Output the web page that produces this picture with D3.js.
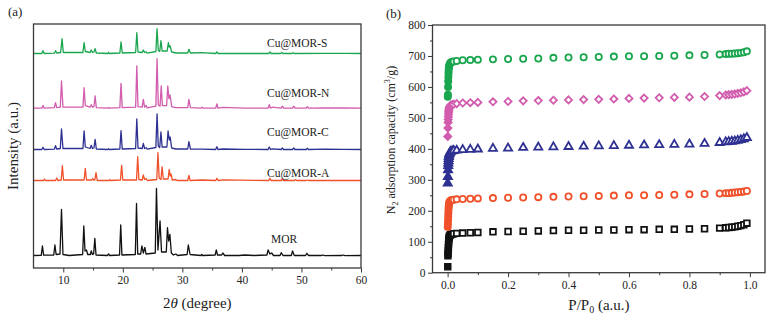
<!DOCTYPE html>
<html>
<head>
<meta charset="utf-8">
<script src="https://cdn.jsdelivr.net/npm/d3@7"></script>
<style>
  body { margin: 0; background: #fff; }
  svg text { font-family: "Liberation Serif", "Times New Roman", serif; fill: #222; }
</style>
</head>
<body>
<svg id="chart" width="773" height="324"></svg>
<script>
// ===============================
// Dades (a): XRD, punts [2θ, intensitat a.u.]
// ===============================
const xrdMOR = [[5,0.5],[6.3,0.6],[6.5,10],[6.7,0.8],[8.4,1],[8.6,11],[8.8,1.5],[9.45,2],[9.7,46.7],[9.95,1.5],[11,0.5],[13.25,1.5],[13.45,30],[13.65,5],[13.9,6],[14.1,1.5],[14.55,1.5],[14.7,5],[14.9,1.5],[15.1,2],[15.3,17.7],[15.5,1],[17.4,0.5],[17.6,2],[17.8,0.5],[19.45,1],[19.65,31],[19.85,1],[22.1,1.5],[22.3,52.7],[22.5,2],[23.0,2],[23.2,10],[23.45,3],[23.7,8.7],[23.9,2],[25.45,3],[25.65,67.7],[25.9,6],[26.25,35],[26.5,4],[27.3,4],[27.5,28.3],[27.7,15],[27.9,21.7],[28.15,3],[28.5,1],[28.9,2],[29.2,0.5],[30.8,1.5],[31.0,11],[31.3,1.5],[33.1,0.5],[33.25,1.5],[33.4,0.5],[35.5,1],[35.7,6],[35.9,1],[36.6,1],[36.8,3],[37.1,0.5],[39.5,0.5],[40.5,1],[42,0.5],[44.2,1],[44.4,6],[44.7,2],[45,3],[45.3,0.5],[46.4,0.5],[46.6,3.3],[46.9,0.5],[48.3,0.5],[48.5,5],[48.8,0.5],[50.7,0.5],[50.9,2.7],[51.2,0.5],[53.4,0.5],[53.6,1],[53.9,0.3],[56.8,0.5],[57,1],[57.3,0.3],[60,0.5]];

const xrdA = [[5,0.5],[6.7,0.5],[6.85,2],[7.0,0.5],[8.7,0.5],[8.9,3],[9.1,0.5],[9.65,1],[9.85,15.3],[10.05,1],[13.5,1],[13.7,12.7],[13.9,1],[14.8,1],[14.95,2.5],[15.1,1],[15.3,1],[15.5,8.3],[15.7,0.5],[17.7,0.5],[17.8,1.5],[17.9,0.5],[19.6,1],[19.8,15.7],[20,1],[22.3,1],[22.5,24.3],[22.7,1.5],[23.25,1],[23.45,6],[23.65,1.5],[23.9,2.5],[24.1,0.5],[25.7,1.5],[25.9,28.3],[26.1,3],[26.4,1.5],[26.6,14.3],[26.8,2],[27.6,2],[27.8,11.7],[27.95,5],[28.1,7],[28.3,1],[28.9,1.5],[29.1,0.5],[30.9,0.5],[31.1,5.7],[31.3,0.5],[33.3,1],[35.6,0.5],[35.8,2.7],[36,0.5],[36.8,1.2],[44.5,0.5],[44.7,2.7],[44.9,0.5],[46.6,0.5],[46.8,2],[47,0.5],[48.8,0.5],[49,1.3],[49.2,0.5],[50.8,0.5],[51,1],[51.2,0.5],[60,0.5]];

const xrdC = [[5,0.5],[6.4,0.5],[6.6,2.7],[6.8,0.5],[8.5,0.8],[8.7,4.3],[8.9,1],[9.5,1.5],[9.7,21],[9.95,1.5],[13.3,1.5],[13.5,19],[13.7,3],[14.5,1.5],[14.7,4.7],[14.9,1.5],[15.15,2],[15.35,10.7],[15.55,1],[17.45,0.5],[17.6,1.3],[17.75,0.5],[19.5,1],[19.7,19.3],[19.9,1],[22.15,1.5],[22.35,31],[22.55,2],[23.25,1.5],[23.45,6.7],[23.65,1.5],[23.9,2.3],[24.1,0.8],[25.55,2.5],[25.75,36],[25.95,4],[26.2,2.5],[26.4,18],[26.6,3],[27.4,3],[27.6,19],[27.8,10],[27.95,13],[28.2,2],[28.9,1],[30.9,1],[31.1,8.3],[31.35,1],[33.3,0.8],[35.6,0.5],[35.8,3.3],[36,0.5],[36.8,1],[40.5,0.6],[44.4,0.5],[44.6,3],[44.8,0.5],[45.1,1.2],[46.6,0.5],[46.8,2],[47,0.5],[48.5,0.5],[48.7,2],[48.9,0.5],[50.8,0.5],[51,1.7],[51.2,0.5],[54,0.8],[57,0.7],[60,0.5]];

const xrdN = [[5,0.5],[6.4,0.5],[6.6,3.3],[6.8,0.5],[8.5,1],[8.7,6],[8.9,1],[9.5,1.5],[9.7,27.7],[9.95,1.5],[13.3,1.5],[13.5,21],[13.7,3],[14.5,1.5],[14.7,4],[14.9,1.5],[15.15,2],[15.35,12.7],[15.55,1],[17.45,0.5],[17.6,1.3],[17.75,0.5],[19.5,1],[19.7,25.3],[19.9,1],[22.15,1.5],[22.35,42.7],[22.55,2],[23.25,1.5],[23.45,9.3],[23.65,1.5],[23.9,3.3],[24.1,0.8],[25.55,2.5],[25.75,50],[25.95,4],[26.25,2.5],[26.45,22.7],[26.65,3],[27.35,3],[27.55,22.7],[27.75,10],[27.95,13.7],[28.2,2],[28.9,1],[30.9,1],[31.1,9.3],[31.35,1],[33.1,0.5],[33.3,1.5],[33.5,0.5],[35.6,0.5],[35.8,4.7],[36,0.5],[36.8,1.3],[40.5,0.6],[44.4,0.5],[44.6,4],[44.8,0.5],[45.1,1.5],[46.6,0.5],[46.8,2.5],[47,0.5],[48.5,0.5],[48.7,2.5],[48.9,0.5],[50.8,0.5],[51,2],[51.2,0.5],[54,0.8],[57,0.7],[60,0.5]];

const xrdS = [[5,0.5],[6.4,0.5],[6.6,3.3],[6.8,0.5],[8.5,0.8],[8.7,3.3],[8.9,1],[9.55,1.5],[9.8,15.3],[10.0,1.5],[13.3,1.5],[13.5,11.3],[13.7,2.5],[14.5,1.5],[14.7,4],[14.9,1.5],[15.15,2],[15.35,5.3],[15.55,1],[17.45,0.5],[17.6,1.7],[17.75,0.5],[19.5,1],[19.7,12],[19.9,1],[22.15,1.5],[22.35,21.3],[22.55,2],[23.25,1.5],[23.45,4],[23.65,1.5],[23.9,2.3],[24.1,0.8],[25.55,2.5],[25.75,25.3],[25.95,4],[26.2,2.5],[26.4,13.3],[26.6,3],[27.45,3],[27.65,11.3],[27.8,7],[27.95,8],[28.2,2],[28.9,1],[30.9,1],[31.1,4.7],[31.35,1],[33.3,1.3],[35.6,0.5],[35.8,2],[36,0.5],[44.5,0.5],[44.7,2],[44.9,0.5],[46.5,0.5],[46.7,1.5],[46.9,0.5],[48.4,0.5],[48.6,1.3],[48.8,0.5],[54,0.6],[57.5,0.7],[60,0.5]];

const sampleNames = ["MOR", "Cu@MOR-A", "Cu@MOR-C", "Cu@MOR-N", "Cu@MOR-S"];
const xrdOffsets = [12, 87, 118, 159.3, 214];
const xTicksA = [10, 20, 30, 40, 50, 60];

// ===============================
// Dades (b): isotermes N2
// ===============================
const pressure = [0.0005,0.001,0.0015,0.002,0.0025,0.003,0.0035,0.004,0.005,0.006,0.008,0.01,
  0.015,0.02,0.03,0.05,0.075,0.1,
  0.15,0.2,0.25,0.3,0.35,0.4,0.45,0.5,0.55,0.6,0.65,0.7,0.75,0.8,0.85,0.9,
  0.92,0.93,0.94,0.95,0.96,0.97,0.98,0.99];

const adsMOR = [19,55,62,70,80,90,100,108,114,118,121,123, 125,126,127,128,129,130,
  132,133,134,135,136,137,137,138,138,139,139,140,140,141,142,144, 145,146,147,148,150,152,155,160];
const adsA = [148,158,170,182,193,203,211,218,224,228,231,233, 235,236,237,238,239,240,
  241,242,243,244,245,246,247,248,249,250,250,251,252,253,254,256, 257,257,258,259,260,261,262,264];
const adsC = [289,310,332,345,353,361,368,374,379,384,388,391, 393,394,395,397,398,399,
  401,402,404,405,406,407,408,409,410,411,412,413,414,415,417,420, 422,423,424,425,427,429,432,436];
const adsN = [440,467,485,495,504,512,519,525,530,534,538,541, 543,544,546,548,549,550,
  552,553,555,556,557,558,559,560,561,563,564,565,566,567,569,572, 574,575,576,577,579,581,584,588];
const adsS = [568,575,600,618,632,644,653,661,667,672,676,679, 681,682,684,686,687,688,
  689,690,691,692,694,695,696,697,698,699,699,700,701,702,703,705, 706,707,707,708,709,710,712,715];

const yTicksB = [0, 100, 200, 300, 400, 500, 600, 700, 800];
const xTicksB = [0, 0.2, 0.4, 0.6, 0.8, 1.0];

// ===============================
// Estil
// ===============================
const colors = ["#111111", "#f0512a", "#2e3192", "#d25cad", "#1aa64e"];
const symbols = [d3.symbolSquare, d3.symbolCircle, d3.symbolTriangle, d3.symbolDiamond2, d3.symbolCircle];
const symbolSizes = [32, 30, 28, 32, 30];
const frameColor = "#3a3a3a";
const serif = "'Liberation Serif', 'Times New Roman', serif";

const svg = d3.select("#chart");

function styleAxis(g) {
  g.attr("font-family", serif);
  g.select(".domain").remove();
  g.selectAll("line").attr("stroke", frameColor);
  g.selectAll("text")
    .style("font-size", "11.5px")
    .style("font-family", serif)
    .attr("fill", "#222");
}

// ===============================
// Panell (a)
// ===============================
const fa = { l: 33.5, r: 361, t: 24, b: 268 };
const xA = d3.scaleLinear().domain([5, 60]).range([fa.l, fa.r]);
const yA = d3.scaleLinear().domain([0, 244]).range([fa.b, fa.t]);

const gA = svg.append("g");

gA.append("g")
  .attr("transform", `translate(0,${fa.b})`)
  .call(d3.axisBottom(xA).tickValues([15, 25, 35, 45, 55]).tickSize(2.5).tickFormat(""))
  .call(styleAxis);

gA.append("g")
  .attr("transform", `translate(0,${fa.b})`)
  .call(d3.axisBottom(xA).tickValues(xTicksA).tickSize(4.5).tickPadding(3))
  .call(styleAxis);

const xrdSeries = [xrdMOR, xrdA, xrdC, xrdN, xrdS];
xrdSeries.forEach((pts, i) => {
  const line = d3.line()
    .x(d => xA(d[0]))
    .y(d => yA(d[1] + xrdOffsets[i]));
  gA.append("path")
    .datum(pts)
    .attr("d", line)
    .attr("fill", "none")
    .attr("stroke", colors[i])
    .attr("stroke-width", 1.3)
    .attr("stroke-linejoin", "round");
});

// etiquetes de les mostres
const labelDy = [13, 4, 14, 11.7, 7];
sampleNames.forEach((name, i) => {
  gA.append("text")
    .attr("x", i === 0 ? 271 : 267)
    .attr("y", yA(xrdOffsets[i] + labelDy[i]))
    .text(name)
    .style("font-size", "11.5px")
    .attr("fill", colors[i]);
});

gA.append("rect")
  .attr("x", fa.l).attr("y", fa.t)
  .attr("width", fa.r - fa.l).attr("height", fa.b - fa.t)
  .attr("fill", "none").attr("stroke", frameColor).attr("stroke-width", 1.3);

gA.append("text")
  .attr("x", 8).attr("y", 16)
  .text("(a)")
  .style("font-size", "13px");

gA.append("text")
  .attr("transform", `translate(18,${(fa.t + fa.b) / 2}) rotate(-90)`)
  .attr("text-anchor", "middle")
  .text("Intensity (a.u.)")
  .style("font-size", "15px");

const xtA = gA.append("text")
  .attr("x", (fa.l + fa.r) / 2).attr("y", 308)
  .attr("text-anchor", "middle")
  .style("font-size", "15px");
xtA.append("tspan").text("2");
xtA.append("tspan").text("θ").style("font-style", "italic");
xtA.append("tspan").text(" (degree)");

// ===============================
// Panell (b)
// ===============================
const fb = { l: 432.5, r: 765, t: 25, b: 272.7 };
const xB = d3.scaleLinear().domain([-0.05, 1.05]).range([fb.l, fb.r]);
const yB = d3.scaleLinear().domain([0, 800]).range([fb.b, fb.t]);

const gB = svg.append("g");

gB.append("g")
  .attr("transform", `translate(0,${fb.b})`)
  .call(d3.axisBottom(xB).tickValues([0.1, 0.3, 0.5, 0.7, 0.9]).tickSize(2.5).tickFormat(""))
  .call(styleAxis);

gB.append("g")
  .attr("transform", `translate(0,${fb.b})`)
  .call(d3.axisBottom(xB).tickValues(xTicksB).tickSize(4.5).tickPadding(4).tickFormat(d3.format(".1f")))
  .call(styleAxis);

gB.append("g")
  .attr("transform", `translate(${fb.l},0)`)
  .call(d3.axisLeft(yB).tickValues(d3.range(50, 800, 100)).tickSize(2.5).tickFormat(""))
  .call(styleAxis);

gB.append("g")
  .attr("transform", `translate(${fb.l},0)`)
  .call(d3.axisLeft(yB).tickValues(yTicksB).tickSize(4.5).tickPadding(2.5))
  .call(styleAxis);

const adsSeries = [adsMOR, adsA, adsC, adsN, adsS];
adsSeries.forEach((vals, i) => {
  const pts = pressure.map((p, k) => ({ p, v: vals[k] }));
  const sym = d3.symbol().type(symbols[i]).size(symbolSizes[i]);
  gB.append("g")
    .selectAll("path")
    .data(pts)
    .enter()
    .append("path")
    .attr("d", sym)
    .attr("transform", d => `translate(${xB(d.p)},${yB(d.v)})`)
    .attr("fill", d => d.p <= 0.01 ? colors[i] : "#fff")
    .attr("stroke", colors[i])
    .attr("stroke-width", 1.8);
});

gB.append("rect")
  .attr("x", fb.l).attr("y", fb.t)
  .attr("width", fb.r - fb.l).attr("height", fb.b - fb.t)
  .attr("fill", "none").attr("stroke", frameColor).attr("stroke-width", 1.3);

gB.append("text")
  .attr("x", 386).attr("y", 18)
  .text("(b)")
  .style("font-size", "13px");

const ytB = gB.append("text")
  .attr("transform", `translate(395,140) rotate(-90)`)
  .attr("text-anchor", "middle")
  .style("font-size", "12px");
ytB.append("tspan").text("N");
ytB.append("tspan").text("2").attr("dy", 3).style("font-size", "8px");
ytB.append("tspan").text(" adsorption capacity (cm").attr("dy", -3);
ytB.append("tspan").text("3").attr("dy", -5).style("font-size", "8px");
ytB.append("tspan").text("/g)").attr("dy", 5);

const xtB = gB.append("text")
  .attr("x", 599).attr("y", 310)
  .attr("text-anchor", "middle")
  .style("font-size", "15px");
xtB.append("tspan").text("P/P");
xtB.append("tspan").text("0").attr("dy", 3).style("font-size", "10px");
xtB.append("tspan").text(" (a.u.)").attr("dy", -3);
</script>
</body>
</html>
